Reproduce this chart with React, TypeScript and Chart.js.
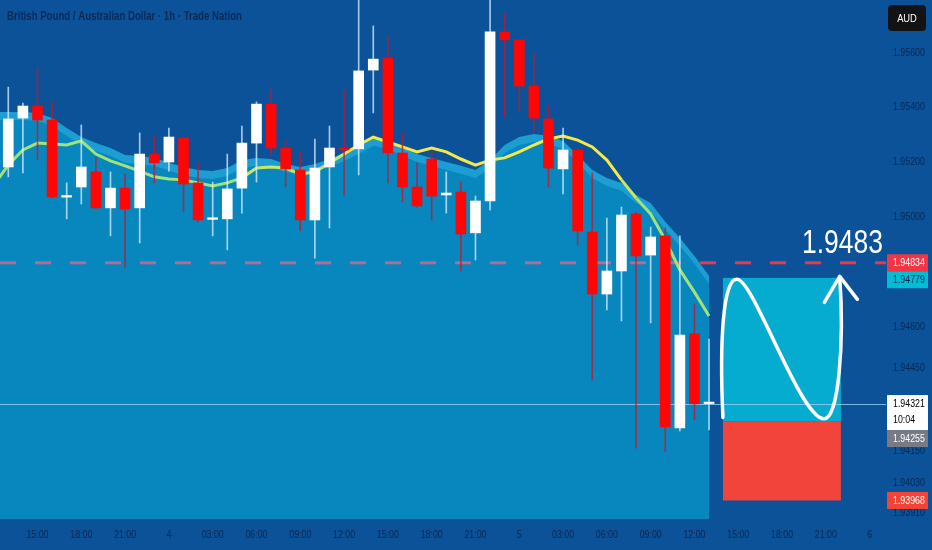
import React, { useEffect, useRef } from 'react';
import { Chart, registerables } from 'chart.js';

Chart.register(...registerables);

const FONT = "'Liberation Sans', Arial, sans-serif";

// ---- data (hourly candles, index 0 = 13:00 on the 3rd) ----
const openPrices = [
  1.95183, 1.95361, 1.95405, 1.95354, 1.95073, 1.95110, 1.95165, 1.95034, 1.95106, 1.95034,
  1.95230, 1.95201, 1.95289, 1.95125, 1.94992, 1.94994, 1.95106, 1.95270, 1.95412, 1.95252,
  1.95172, 1.94990, 1.95183, 1.95251, 1.95249, 1.95536, 1.95580, 1.95234, 1.95110, 1.95212,
  1.95081, 1.95092, 1.94943, 1.95059, 1.95675, 1.95646, 1.95478, 1.95358, 1.95176, 1.95245,
  1.94946, 1.94720, 1.94804, 1.95012, 1.94862, 1.94932, 1.94232, 1.94575, 1.94321,
];
const highPrices = [
  1.95474, 1.95416, 1.95544, 1.95420, 1.95125, 1.95336, 1.95219, 1.95165, 1.95157, 1.95307,
  1.95296, 1.95325, 1.95290, 1.95198, 1.95128, 1.95230, 1.95332, 1.95420, 1.95467, 1.95281,
  1.95238, 1.95285, 1.95332, 1.95463, 1.95820, 1.95697, 1.95660, 1.95307, 1.95198, 1.95245,
  1.95165, 1.95128, 1.95077, 1.95805, 1.95744, 1.95648, 1.95598, 1.95405, 1.95325, 1.95252,
  1.95161, 1.94997, 1.95037, 1.95019, 1.94964, 1.94961, 1.94932, 1.94684, 1.94556,
];
const lowPrices = [
  1.95147, 1.95161, 1.95208, 1.95070, 1.94994, 1.95048, 1.95030, 1.94932, 1.94815, 1.94906,
  1.95125, 1.95168, 1.95019, 1.94983, 1.94932, 1.94881, 1.95015, 1.95128, 1.95223, 1.95110,
  1.94950, 1.94851, 1.94961, 1.95081, 1.95154, 1.95380, 1.95125, 1.95055, 1.95037, 1.94990,
  1.95015, 1.94804, 1.94844, 1.95026, 1.95365, 1.95383, 1.95310, 1.95110, 1.95085, 1.94899,
  1.94407, 1.94662, 1.94622, 1.94159, 1.94615, 1.94145, 1.94221, 1.94261, 1.94225,
];
const closePrices = [
  1.95358, 1.95405, 1.95354, 1.95074, 1.95079, 1.95183, 1.95034, 1.95106, 1.95030, 1.95230,
  1.95198, 1.95292, 1.95121, 1.94990, 1.94998, 1.95103, 1.95270, 1.95412, 1.95252, 1.95176,
  1.94990, 1.95179, 1.95252, 1.95245, 1.95533, 1.95576, 1.95234, 1.95110, 1.95041, 1.95077,
  1.95088, 1.94939, 1.95059, 1.95675, 1.95646, 1.95478, 1.95361, 1.95179, 1.95245, 1.94950,
  1.94720, 1.94804, 1.95008, 1.94859, 1.94928, 1.94236, 1.94571, 1.94320, 1.94321,
];

// indicator series start one bar before the first candle (index -1)
const indicatorStart = -1;
const emaValues = [
  1.95117, 1.95190, 1.95245, 1.95270, 1.95267, 1.95263, 1.95278, 1.95230, 1.95205, 1.95187,
  1.95168, 1.95147, 1.95139, 1.95136, 1.95125, 1.95114, 1.95125, 1.95143, 1.95179, 1.95183,
  1.95179, 1.95157, 1.95165, 1.95198, 1.95230, 1.95263, 1.95292, 1.95274, 1.95256, 1.95238,
  1.95252, 1.95238, 1.95212, 1.95190, 1.95208, 1.95216, 1.95238, 1.95263, 1.95285, 1.95296,
  1.95281, 1.95256, 1.95208, 1.95136, 1.95070, 1.95012, 1.94917, 1.94808, 1.94727, 1.94640,
];
const bandUpper = [
  1.95383, 1.95383, 1.95383, 1.95380, 1.95361, 1.95325, 1.95292, 1.95270, 1.95252, 1.95227,
  1.95223, 1.95216, 1.95198, 1.95183, 1.95172, 1.95168, 1.95179, 1.95208, 1.95216, 1.95212,
  1.95194, 1.95183, 1.95194, 1.95212, 1.95234, 1.95259, 1.95289, 1.95278, 1.95252, 1.95230,
  1.95216, 1.95201, 1.95187, 1.95172, 1.95208, 1.95263, 1.95292, 1.95303, 1.95296, 1.95278,
  1.95227, 1.95172, 1.95143, 1.95125, 1.95081, 1.95052, 1.94983, 1.94924, 1.94859, 1.94786,
];
const bandLower = [
  1.95354, 1.95354, 1.95354, 1.95351, 1.95332, 1.95296, 1.95263, 1.95241, 1.95223, 1.95198,
  1.95194, 1.95187, 1.95169, 1.95154, 1.95143, 1.95139, 1.95150, 1.95179, 1.95187, 1.95183,
  1.95165, 1.95154, 1.95165, 1.95183, 1.95205, 1.95230, 1.95260, 1.95249, 1.95223, 1.95201,
  1.95187, 1.95172, 1.95158, 1.95143, 1.95179, 1.95234, 1.95263, 1.95274, 1.95267, 1.95249,
  1.95198, 1.95143, 1.95114, 1.95096, 1.95052, 1.95023, 1.94954, 1.94895, 1.94830, 1.94757,
];

const timeTickLabels = [
  '15:00', '18:00', '21:00', '4', '03:00', '06:00', '09:00', '12:00', '15:00', '18:00',
  '21:00', '5', '03:00', '06:00', '09:00', '12:00', '15:00', '18:00', '21:00', '6',
];
const firstTickIndex = 2;
const tickStep = 3;
const priceTickValues = [1.956, 1.954, 1.952, 1.95, 1.946, 1.9445, 1.9415, 1.9403, 1.9391];

const xMin = -0.568;
const xMax = 60.12;
const yMin = 1.939005;
const yMax = 1.957913;

const targetPrice = 1.94834;
const targetText = '1.9483';
const entryHigh = 1.94779;
const entryLow = 1.94255;
const stopPrice = 1.93968;
const lastPrice = 1.94321;
const countdown = '10:04';
const planStartIndex = 48.95;
const planEndIndex = 57.03;
const titleText = 'British Pound / Australian Dollar · 1h · Trade Nation';
const currencyText = 'AUD';

// ---- colours ----
const BG = '#0b5299';
const AREA = '#0787be';
const BAND = '#1c9ed2';
const AXIS_TEXT = '#0b2650';
const UP = '#ffffff';
const DOWN = '#ff0606';
const AXIS_SX = 0.8; // horizontal squeeze of axis lettering

const candleIdx = openPrices.map((_, i) => i);
const isUp = (i: number) => closePrices[i] >= openPrices[i];

function emaColor(i: number): string {
  if (i >= 23 && i <= 41) return '#f3ea4a';
  if ((i >= 16 && i <= 22) || i === 42) return '#c9e766';
  return '#a2e27a';
}

function squeezedText(ctx: CanvasRenderingContext2D, text: string, x: number, y: number, sx: number, align: CanvasTextAlign) {
  ctx.save();
  ctx.translate(x, y);
  ctx.scale(sx, 1);
  ctx.textAlign = align;
  ctx.fillText(text, 0, 0);
  ctx.restore();
}

const overlayPlugin = {
  id: 'tvOverlay',
  beforeDraw(chart: any) {
    const { ctx, width, height } = chart;
    ctx.save();
    ctx.fillStyle = BG;
    ctx.fillRect(0, 0, width, height);
    ctx.restore();
  },
  beforeDatasetsDraw(chart: any) {
    const { ctx } = chart;
    const xs = chart.scales.x;
    const ys = chart.scales.y;
    const x0 = xs.getPixelForValue(planStartIndex);
    const x1 = xs.getPixelForValue(planEndIndex);
    const yT = ys.getPixelForValue(entryHigh);
    const yM = ys.getPixelForValue(entryLow);
    const yB = ys.getPixelForValue(stopPrice);
    ctx.save();
    ctx.fillStyle = '#06acd0';
    ctx.fillRect(x0, yT, x1 - x0, yM - yT);
    ctx.fillStyle = '#f2443a';
    ctx.fillRect(x0, yM, x1 - x0, yB - yM);
    ctx.restore();
  },
  beforeDatasetDraw(chart: any, args: any) {
    if (args.index !== 2) return;
    const { ctx, chartArea } = chart;
    const ys = chart.scales.y;
    ctx.save();
    const yl = Math.round(ys.getPixelForValue(lastPrice)) + 0.5;
    ctx.strokeStyle = 'rgba(150,210,245,0.8)';
    ctx.lineWidth = 1;
    ctx.beginPath();
    ctx.moveTo(chartArea.left, yl);
    ctx.lineTo(chartArea.right, yl);
    ctx.stroke();
    const yd = ys.getPixelForValue(targetPrice);
    const pts = chart.getDatasetMeta(0).data;
    const topAt = (x: number) => {
      if (x > pts[pts.length - 1].x) return Infinity;
      for (let k = 1; k < pts.length; k++) {
        if (pts[k].x >= x) {
          const a = pts[k - 1], b = pts[k];
          const t = (x - a.x) / (b.x - a.x);
          return a.y + (b.y - a.y) * t;
        }
      }
      return Infinity;
    };
    ctx.lineWidth = 3;
    for (let x = chartArea.left; x < chartArea.right; x += 35) {
      const xe = Math.min(x + 16, chartArea.right);
      const inside = yd > topAt((x + xe) / 2);
      ctx.strokeStyle = inside ? '#b86a93' : '#f23645';
      ctx.beginPath();
      ctx.moveTo(x, yd);
      ctx.lineTo(xe, yd);
      ctx.stroke();
    }
    ctx.restore();
  },
  afterDatasetsDraw(chart: any) {
    const { ctx, chartArea } = chart;
    const xs = chart.scales.x;
    const ys = chart.scales.y;
    const x0 = xs.getPixelForValue(planStartIndex);
    const x1 = xs.getPixelForValue(planEndIndex);
    const yT = ys.getPixelForValue(entryHigh);
    const yM = ys.getPixelForValue(entryLow);
    const w = x1 - x0;
    const h = yM - yT;
    const P = (u: number, v: number): [number, number] => [x0 + u * w, yT + v * h];
    ctx.save();
    ctx.strokeStyle = '#ffffff';
    ctx.lineWidth = 3.5;
    ctx.lineCap = 'round';
    ctx.lineJoin = 'round';
    ctx.beginPath();
    const p = P(0, 0.97);
    ctx.moveTo(p[0], p[1]);
    let c1 = P(-0.03, 0.45), c2 = P(0.0, 0.0), e = P(0.12, 0.01);
    ctx.bezierCurveTo(c1[0], c1[1], c2[0], c2[1], e[0], e[1]);
    c1 = P(0.26, 0.01); c2 = P(0.66, 0.99); e = P(0.86, 0.98);
    ctx.bezierCurveTo(c1[0], c1[1], c2[0], c2[1], e[0], e[1]);
    c1 = P(0.98, 0.98); c2 = P(1.03, 0.45); e = P(0.99, -0.01);
    ctx.bezierCurveTo(c1[0], c1[1], c2[0], c2[1], e[0], e[1]);
    ctx.stroke();
    const tip = P(0.99, -0.01);
    const la = P(0.86, 0.17);
    const ra = P(1.14, 0.15);
    ctx.beginPath();
    ctx.moveTo(la[0], la[1]);
    ctx.lineTo(tip[0], tip[1]);
    ctx.lineTo(ra[0], ra[1]);
    ctx.stroke();

    const yd = ys.getPixelForValue(targetPrice);
    ctx.font = `34px ${FONT}`;
    ctx.fillStyle = '#ffffff';
    ctx.textBaseline = 'alphabetic';
    const mw = ctx.measureText(targetText).width;
    squeezedText(ctx, targetText, chartArea.right - 3, yd - 10, 81 / mw, 'right');
    ctx.restore();
  },
  afterDraw(chart: any) {
    const { ctx, chartArea } = chart;
    const xs = chart.scales.x;
    const ys = chart.scales.y;
    ctx.save();
    ctx.textBaseline = 'middle';

    // axis tick labels
    ctx.fillStyle = AXIS_TEXT;
    ctx.font = `11px ${FONT}`;
    timeTickLabels.forEach((t, k) => {
      const x = xs.getPixelForValue(firstTickIndex + k * tickStep);
      squeezedText(ctx, t, x, 535, AXIS_SX, 'center');
    });
    priceTickValues.forEach((v) => {
      const y = Math.min(ys.getPixelForValue(v), chartArea.bottom - 6);
      squeezedText(ctx, v.toFixed(5), chartArea.right + 7, y, AXIS_SX, 'left');
    });

    // title
    ctx.font = `bold 12px ${FONT}`;
    ctx.fillStyle = '#0c2a55';
    const tw = ctx.measureText(titleText).width;
    squeezedText(ctx, titleText, 7, 17, 235 / tw, 'left');

    // currency box
    ctx.fillStyle = '#131313';
    ctx.beginPath();
    (ctx as any).roundRect(888, 5, 38, 26, 4);
    ctx.fill();
    ctx.fillStyle = '#ffffff';
    ctx.font = `11px ${FONT}`;
    squeezedText(ctx, currencyText, 907, 18.5, 0.85, 'center');

    // price labels on the axis
    const labels = [
      { v: targetPrice, bg: '#f23645', fg: '#ffffff', h: 17, lines: [targetPrice.toFixed(5)] },
      { v: entryHigh, bg: '#00bcd4', fg: '#0a2540', h: 17, lines: [entryHigh.toFixed(5)] },
      { v: lastPrice, bg: '#ffffff', fg: '#000000', h: 35, lines: [lastPrice.toFixed(5), countdown] },
      { v: entryLow, bg: '#787b86', fg: '#ffffff', h: 17, lines: [entryLow.toFixed(5)] },
      { v: stopPrice, bg: '#f44336', fg: '#ffffff', h: 17, lines: [stopPrice.toFixed(5)] },
    ];
    let prevBottom = -Infinity;
    const lx = chartArea.right + 1;
    const lw = 41;
    for (const L of labels) {
      const y = ys.getPixelForValue(L.v);
      let top = y - 8.5;
      if (top < prevBottom) top = prevBottom;
      prevBottom = top + L.h;
      ctx.fillStyle = L.bg;
      ctx.fillRect(lx, top, lw, L.h);
      ctx.fillStyle = L.fg;
      ctx.font = `11px ${FONT}`;
      L.lines.forEach((t, k) => squeezedText(ctx, t, lx + 6, top + 9 + k * 16, AXIS_SX, 'left'));
    }
    ctx.restore();
  },
};

export default function App() {
  const ref = useRef<HTMLCanvasElement>(null);
  useEffect(() => {
    const canvas = ref.current;
    if (!canvas) return;
    const ix = (k: number) => indicatorStart + k;
    const chart = new Chart(canvas, {
      type: 'line',
      data: {
        datasets: [
          {
            type: 'line',
            data: bandUpper.map((v, k) => ({ x: ix(k), y: v })),
            borderWidth: 0,
            pointRadius: 0,
            fill: 'start',
            backgroundColor: BAND,
            tension: 0,
            order: 10,
          } as any,
          {
            type: 'line',
            data: bandLower.map((v, k) => ({ x: ix(k), y: v })),
            borderWidth: 0,
            pointRadius: 0,
            fill: 'start',
            backgroundColor: AREA,
            tension: 0,
            order: 9,
          } as any,
          {
            type: 'line',
            data: emaValues.map((v, k) => ({ x: ix(k), y: v })),
            borderWidth: 3,
            borderColor: '#a2e27a',
            pointRadius: 0,
            fill: false,
            tension: 0,
            order: 5,
            segment: {
              borderColor: (c: any) => emaColor(c.p0DataIndex + indicatorStart),
            },
          } as any,
          {
            type: 'bar',
            data: candleIdx.map((i) => ({ x: i, y: [lowPrices[i], highPrices[i]] })),
            backgroundColor: candleIdx.map((i) => (isUp(i) ? 'rgba(220,240,255,0.75)' : 'rgba(200,20,40,0.75)')),
            borderWidth: 0,
            barThickness: 1,
            grouped: false,
            order: 2,
          } as any,
          {
            type: 'bar',
            data: candleIdx.map((i) => ({ x: i, y: [openPrices[i], closePrices[i]] })),
            backgroundColor: candleIdx.map((i) => (isUp(i) ? UP : DOWN)),
            borderWidth: 0,
            barThickness: 10,
            minBarLength: 1.5,
            grouped: false,
            order: 1,
          } as any,
        ],
      },
      options: {
        responsive: false,
        animation: false,
        events: [],
        layout: { padding: 0 },
        plugins: {
          legend: { display: false },
          title: { display: false },
          tooltip: { enabled: false },
        },
        scales: {
          x: {
            type: 'linear',
            min: xMin,
            max: xMax,
            offset: false,
            grid: { display: false, drawTicks: false },
            border: { display: false },
            ticks: { display: false },
            afterFit: (s: any) => {
              s.height = 31;
              s.paddingLeft = 0;
              s.paddingRight = 0;
            },
          },
          y: {
            type: 'linear',
            position: 'right',
            min: yMin,
            max: yMax,
            grid: { display: false, drawTicks: false },
            border: { display: false },
            ticks: { display: false },
            afterFit: (s: any) => {
              s.width = 46;
              s.paddingTop = 0;
              s.paddingBottom = 0;
            },
          },
        },
      } as any,
      plugins: [overlayPlugin as any],
    });
    return () => chart.destroy();
  }, []);
  return (
    <div style={{ position: 'fixed', left: 0, top: 0, width: 932, height: 550, background: BG }}>
      <canvas ref={ref} width={932} height={550} style={{ display: 'block', width: 932, height: 550 }} />
    </div>
  );
}
